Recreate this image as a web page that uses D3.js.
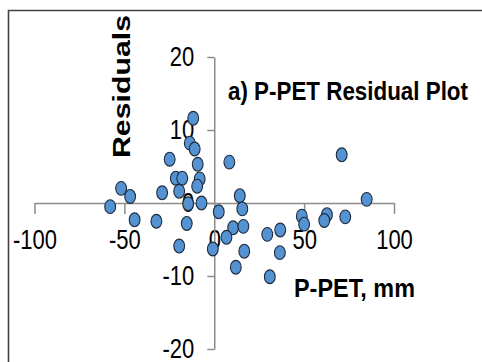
<!DOCTYPE html>
<html>
<head>
<meta charset="utf-8">
<script src="https://cdn.jsdelivr.net/npm/d3@7"></script>
<style>
  body { margin: 0; background: #fff; }
  svg { display: block; font-family: Arial, "Liberation Sans", sans-serif; }
</style>
</head>
<body>
<div id="chart"></div>
<script>

// P-PET (mm) vs residuals
var ppet = [-11.7, -13.6, -10.9, -24.8, -9.2, 8.4, -21.4, -17.8, -8.1, -9.5,
            -19.5, -51.8, -46.8, -29.0, -57.9, -7.1, -14.5, -44.3, -32.2, -15.3,
            -19.5, 2.5, 14.2, 15.6, 10.5, 16.2, 6.8, -0.8, 16.7, 12.0,
            29.5, 36.7, 36.5, 30.9, 48.7, 50.0, 62.7, 61.2, 72.9, 70.9, 84.8];
var residuals = [11.6, 8.2, 7.4, 6.0, 5.3, 5.6, 3.4, 3.4, 3.3, 2.3,
                 1.6, 2.0, 0.9, 1.4, -0.5, 0.0, -0.1, -2.3, -2.5, -2.8,
                 -5.9, -1.2, 1.0, -0.8, -3.4, -3.2, -4.7, -6.3, -6.6, -8.8,
                 -4.3, -3.7, -6.8, -10.1, -1.8, -2.9, -1.6, -2.4, -1.9, 6.6, 0.5];

var xTicks = [-100, -50, 0, 50, 100];
var yTicks = [-20, -10, 0, 10, 20];

var width = 482, height = 362;

var svg = d3.select("#chart").append("svg")
    .attr("width", width)
    .attr("height", height);

// frame (only left + top visible in the crop)
svg.append("path")
    .attr("d", "M8.5," + height + "V10.5H" + width)
    .attr("fill", "none")
    .attr("stroke", "#444")
    .attr("stroke-width", 1.6);

var x = d3.scaleLinear().domain([-100, 100]).range([34.5, 394]);
var y = d3.scaleLinear().domain([-20, 20]).range([349, 57]);

var stretch = 1.26; // text in the picture is taller than wide
var plainFormat = function (d) { return String(d); }; // hyphen, not the unicode minus

// x axis crosses at residual 0
var xAxisG = svg.append("g")
    .attr("transform", "translate(0," + y(0) + ")")
    .call(d3.axisBottom(x).tickValues(xTicks).tickSize(11).tickSizeOuter(0).tickFormat(plainFormat));

xAxisG.selectAll(".tick text")
    .attr("y", 46 / stretch)
    .attr("dy", 0)
    .attr("transform", "scale(1," + stretch + ")");

// y axis crosses at P-PET 0
var yAxisG = svg.append("g")
    .attr("transform", "translate(" + x(0) + ",0)")
    .call(d3.axisLeft(y).tickValues(yTicks).tickSize(7).tickSizeOuter(0).tickFormat(plainFormat));

yAxisG.selectAll(".tick text")
    .attr("x", -20)
    .attr("y", 8 / stretch)
    .attr("dy", 0)
    .attr("transform", "scale(1," + stretch + ")");

[xAxisG, yAxisG].forEach(function (g) {
    g.select(".domain").attr("stroke", "#8c8c8c").attr("stroke-width", 1.5);
    g.selectAll(".tick line").attr("stroke", "#8c8c8c").attr("stroke-width", 1.5);
    g.selectAll("text")
        .attr("fill", "#000")
        .style("font-size", "22px")
        .style("font-family", "Arial, 'Liberation Sans', sans-serif");
});

// points
svg.append("g")
    .selectAll("ellipse")
    .data(ppet.map(function (d, i) { return [d, residuals[i]]; }))
    .enter()
    .append("ellipse")
    .attr("cx", function (d) { return x(d[0]); })
    .attr("cy", function (d) { return y(d[1]); })
    .attr("rx", 5.4)
    .attr("ry", 6.9)
    .attr("fill", "#5592d2")
    .attr("stroke", "#1c2c3e")
    .attr("stroke-width", 1.1);

// title
svg.append("text")
    .attr("transform", "translate(228,100) scale(1,1.12)")
    .attr("textLength", 240)
    .attr("lengthAdjust", "spacingAndGlyphs")
    .style("font-size", "22.5px")
    .style("font-weight", "bold")
    .text("a) P-PET Residual Plot");

// x label
svg.append("text")
    .attr("x", 294)
    .attr("y", 297)
    .attr("textLength", 121)
    .attr("lengthAdjust", "spacingAndGlyphs")
    .style("font-size", "25px")
    .style("font-weight", "bold")
    .text("P-PET, mm");

// y label
svg.append("text")
    .attr("transform", "translate(130,86.5) rotate(-90)")
    .attr("text-anchor", "middle")
    .attr("textLength", 143)
    .attr("lengthAdjust", "spacingAndGlyphs")
    .style("font-size", "24px")
    .style("font-weight", "bold")
    .text("Residuals");

</script>
</body>
</html>
